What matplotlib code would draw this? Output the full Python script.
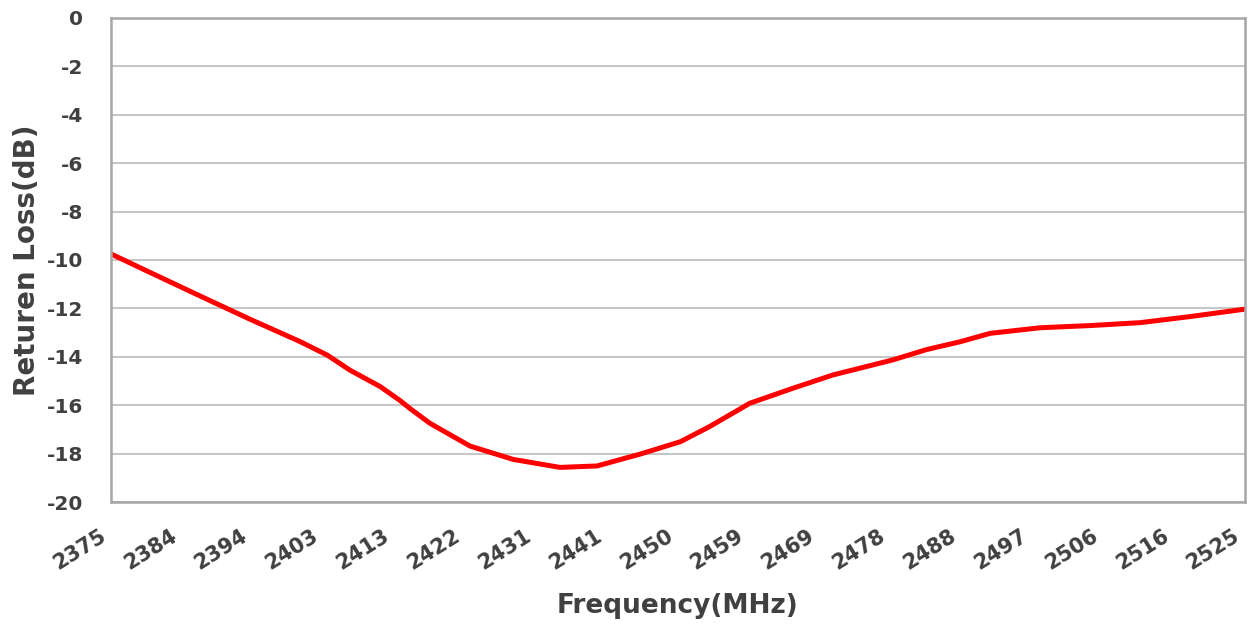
import numpy as np
import matplotlib.pyplot as plt
import matplotlib.transforms as mtransforms

plt.rcParams['font.family'] = ['DejaVu Sans']
plt.rcParams['axes.unicode_minus'] = False

freq = [2375, 2380.2, 2386.8, 2393.4, 2400.0, 2403.6, 2406.6, 2410.6, 2413.2, 2414.6,
        2417.2, 2422.5, 2428.2, 2434.4, 2439.3, 2445.0, 2447.6, 2450.3, 2454.2,
        2459.5, 2465.2, 2470.5, 2478.4, 2482.9, 2487.3, 2491.3, 2497.9, 2504.5,
        2511.1, 2517.7, 2525]
rl = [-9.75, -10.52, -11.49, -12.45, -13.37, -13.93, -14.55, -15.23, -15.8, -16.15,
      -16.75, -17.69, -18.24, -18.57, -18.51, -18.02, -17.77, -17.51, -16.88,
      -15.92, -15.3, -14.75, -14.13, -13.7, -13.38, -13.03, -12.8, -12.71,
      -12.59, -12.34, -12.03]

tick_labels = ['2375', '2384', '2394', '2403', '2413', '2422', '2431', '2441', '2450',
               '2459', '2469', '2478', '2488', '2497', '2506', '2516', '2525']

txt = '#404040'
fig = plt.figure(figsize=(12.53, 6.24), dpi=100)
ax = fig.add_axes([0.0886, 0.1955, 0.905, 0.7757])

ax.plot(freq, rl, color='#ff0000', lw=3.6, solid_capstyle='round', solid_joinstyle='round')

ax.set_xlim(2375, 2525)
ax.set_ylim(-20, 0)
ax.set_yticks(np.arange(-20, 1, 2))
ax.set_xticks(np.linspace(2375, 2525, len(tick_labels)))
ax.set_xticklabels(tick_labels, rotation=32, ha='right', va='center', rotation_mode='anchor')
ax.grid(axis='y', color='#c0c0c0', lw=1.3)
ax.set_axisbelow(True)
for s in ax.spines.values():
    s.set_color('#a6a6a6')
    s.set_linewidth(1.8)

ax.tick_params(axis='both', length=0, labelcolor=txt)
ax.tick_params(axis='y', pad=20, labelsize=14.5)
ax.tick_params(axis='x', pad=23, labelsize=15)
shift = mtransforms.ScaledTranslation(-7 / 100, 0, fig.dpi_scale_trans)
for lb in ax.get_xticklabels():
    lb.set_fontweight('bold')
    lb.set_transform(lb.get_transform() + shift)
for lb in ax.get_yticklabels():
    lb.set_fontweight('bold')

ax.set_xlabel('Frequency(MHz)', fontsize=19, fontweight='bold', color=txt, labelpad=14)
ax.set_ylabel('Returen Loss(dB)', fontsize=20, fontweight='bold', color=txt, labelpad=4)

fig.savefig('out.png', dpi=100)
